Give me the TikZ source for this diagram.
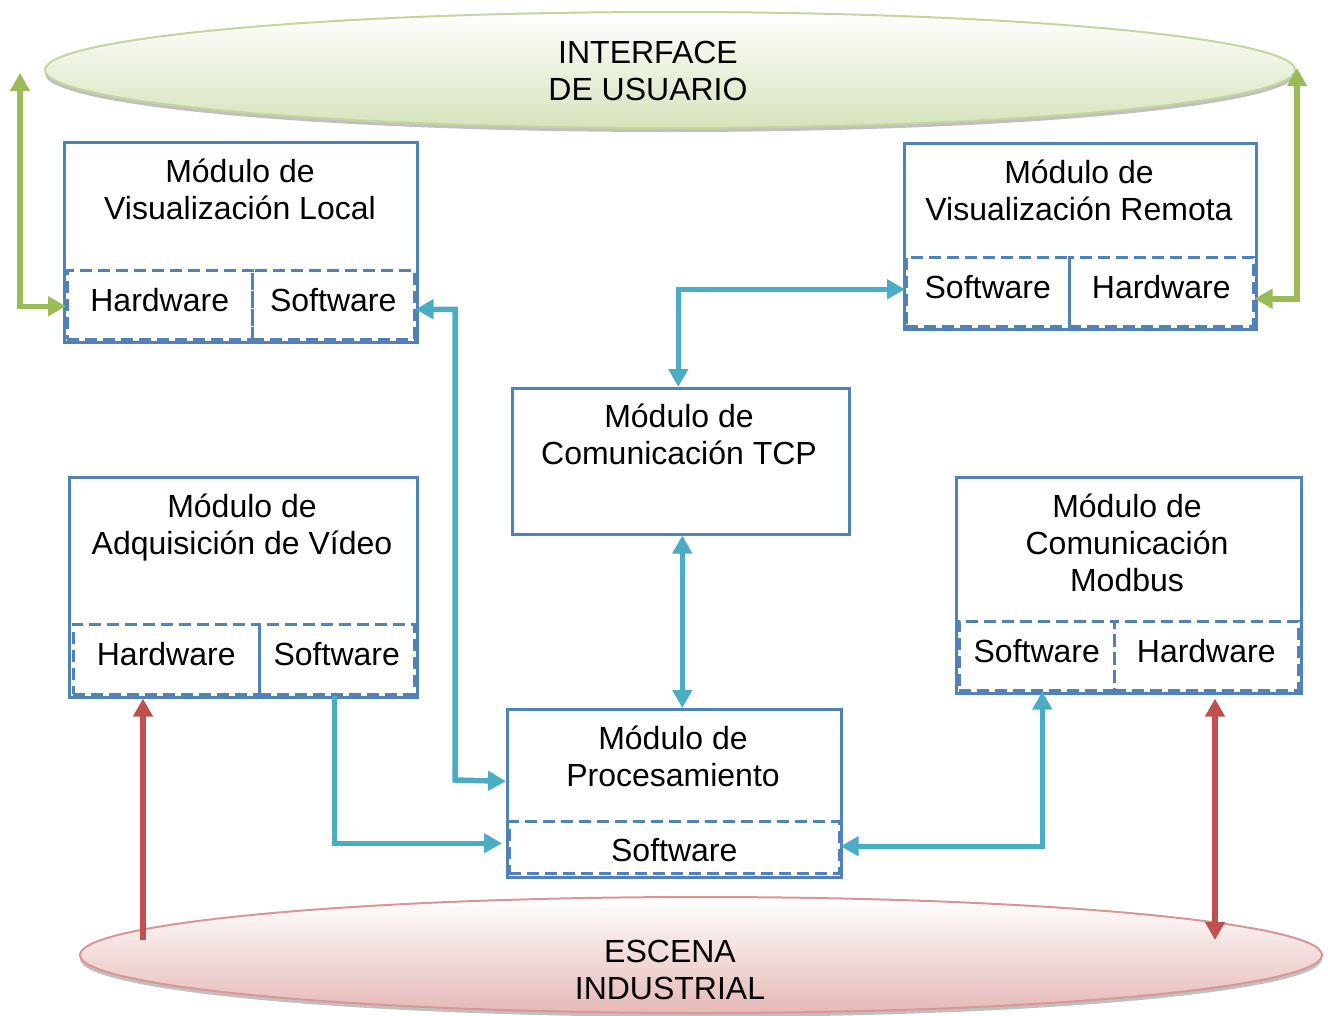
\documentclass[tikz,border=0pt]{standalone}
\usepackage{fontspec}
\setmainfont{Liberation Sans}
\usetikzlibrary{arrows.meta,shapes.geometric,shadows,calc}

\definecolor{boxblue}{HTML}{4F81BD}
\definecolor{flowblue}{HTML}{4BACC6}
\definecolor{flowgreen}{HTML}{9BBB59}
\definecolor{flowred}{HTML}{C0504D}
\definecolor{uiline}{HTML}{C3D69B}
\definecolor{uifill}{HTML}{D6E3BC}
\definecolor{scline}{HTML}{D99694}
\definecolor{scfill}{HTML}{E5B9B7}

% fixed first-line height so titles sit at a known baseline
\newcommand{\tstrut}{\rule{0pt}{26pt}}

\begin{document}
\begin{tikzpicture}[
  x=1pt, y=-1pt,
  txt/.style={font=\fontsize{32}{37}\selectfont, inner sep=0pt, align=center},
  title/.style={txt, anchor=north},
  modbox/.style={draw=boxblue, line width=2.6pt, anchor=north west, inner sep=0pt},
  part/.style={draw=boxblue, line width=2.5pt, dash pattern=on 12pt off 6pt,
               anchor=north west, inner sep=0pt, font=\fontsize{32}{37}\selectfont,
               text height=22pt, text depth=9pt},
  >={Triangle[length=18pt,width=19pt]},
  flow/.style={draw=flowblue, line width=5.5pt},
  greenflow/.style={draw=flowgreen, line width=5.5pt},
  redflow/.style={draw=flowred, line width=5.5pt},
  plate/.style={ellipse, inner sep=0pt, line width=2pt,
                drop shadow={shadow xshift=0pt, shadow yshift=-4pt, fill=black!55, opacity=0.45}}
]
\useasboundingbox (0,0) rectangle (1328,1015);

% ---- user interface and industrial scene ----
\node[plate, draw=uiline, top color=white, bottom color=uifill,
      minimum width=1250pt, minimum height=116pt] (ui) at (670,70) {};
\node[title] (uitxt) at (648,37) {\tstrut INTERFACE\\DE USUARIO};

\node[plate, draw=scline, top color=white, bottom color=scfill,
      minimum width=1242pt, minimum height=116pt] (esc) at (701,955) {};
\node[title] (esctxt) at (670,936) {\tstrut ESCENA\\INDUSTRIAL};

% ---- local visualization module ----
\node[modbox, minimum width=353pt, minimum height=200pt] (vl) at (63,141) {};
\node[title] (vltxt) at (240,156) {\tstrut Módulo de\\Visualización Local};
\node[part, minimum width=185pt, minimum height=69pt] (vlhw) at (66,269) {Hardware};
\node[part, minimum width=162pt, minimum height=69pt] (vlsw) at (251,269) {Software};

% ---- remote visualization module ----
\node[modbox, minimum width=352pt, minimum height=186pt] (vr) at (903,142) {};
\node[title] (vrtxt) at (1079,157) {\tstrut Módulo de\\Visualización Remota};
\node[part, minimum width=163pt, minimum height=69pt] (vrsw) at (905,256) {Software};
\node[part, minimum width=184pt, minimum height=69pt] (vrhw) at (1068,256) {Hardware};

% ---- TCP communication module ----
\node[modbox, minimum width=337pt, minimum height=146pt] (tcp) at (511,387) {};
\node[title] (tcptxt) at (679,401) {\tstrut Módulo de\\Comunicación TCP};

% ---- video acquisition module ----
\node[modbox, minimum width=348pt, minimum height=220pt] (adq) at (68,476) {};
\node[title] (adqtxt) at (242,491) {\tstrut Módulo de\\Adquisición de Vídeo};
\node[part, minimum width=186pt, minimum height=70pt] (adqhw) at (72,623) {Hardware};
\node[part, minimum width=155pt, minimum height=70pt] (adqsw) at (258,623) {Software};

% ---- Modbus communication module ----
\node[modbox, minimum width=345pt, minimum height=216pt] (mb) at (955,476) {};
\node[title] (mbtxt) at (1127,491) {\tstrut Módulo de\\Comunicación\\Modbus};
\node[part, minimum width=155pt, minimum height=69pt] (mbsw) at (958,620) {Software};
\node[part, minimum width=184pt, minimum height=69pt] (mbhw) at (1113,620) {Hardware};

% ---- processing module ----
\node[modbox, minimum width=334pt, minimum height=168pt] (proc) at (506,708) {};
\node[title] (proctxt) at (673,723) {\tstrut Módulo de\\Procesamiento};
\node[part, minimum width=330pt, minimum height=52pt, text height=28pt, text depth=0pt]
      (procsw) at (508,820) {Software};

% ---- connectors ----
\coordinate (uiL) at (20,73);
\coordinate (uiR) at (1297,68);
\draw[greenflow,<->] (uiL) |- ([yshift=-1.5pt]vlhw.west);
\draw[greenflow,<->] (uiR) |- ([yshift=-7pt]vrhw.east);

\draw[flow,<->] ([xshift=-2.5pt]tcp.north) |- ([yshift=2.5pt]vrsw.west);
\draw[flow,<->] ([xshift=1.5pt]tcp.south) -- ([xshift=1.5pt]tcp.south |- proc.north);
\draw[flow,<->] ([yshift=-4.5pt]vlsw.east) -| (455,780) -- ([yshift=12pt]proc.west);
\draw[flow,->,shorten >=6pt] ([xshift=-2.5pt]adqsw.south) |- ([yshift=4pt]procsw.west);
\draw[flow,<->] ([xshift=5.5pt]mbsw.south) |- ([yshift=1pt]procsw.east);

\coordinate (escL) at (143,940);
\coordinate (escR) at (1215,940);
\draw[redflow,->] (escL) -- (escL |- adq.south);
\draw[redflow,<->] (escR) -- ([yshift=-4pt]escR |- mb.south);
\end{tikzpicture}
\end{document}
